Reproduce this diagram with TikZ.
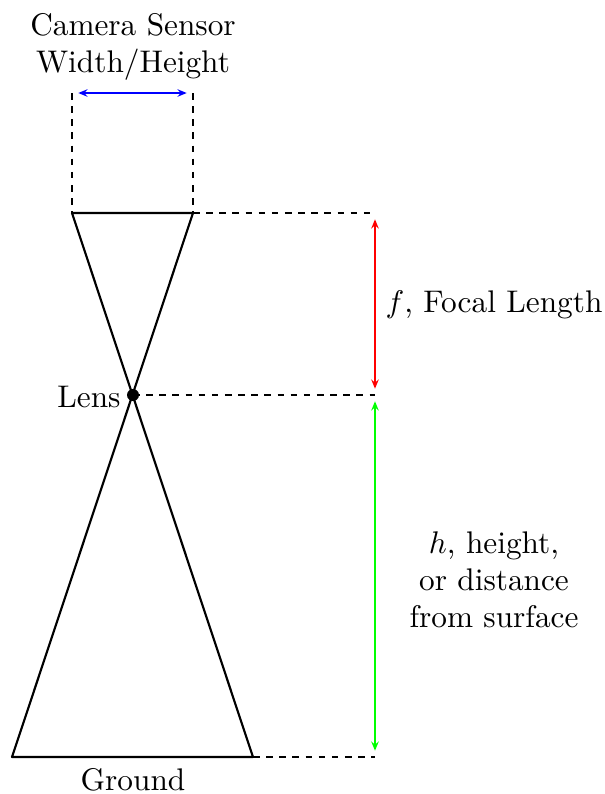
\documentclass[tikz,border=0pt]{standalone}
\usetikzlibrary{arrows.meta}
\begin{document}
\begin{tikzpicture}[x=0.35pt,y=-0.35pt,
  conebox/.style={line width=0.75pt,line join=round},
  guide/.style={dash pattern=on 2.3pt off 2.3pt,line width=0.4pt},
  dim/.style={line width=0.5pt,{Stealth[length=3.2pt,width=2.6pt]}-{Stealth[length=3.2pt,width=2.6pt]},shorten >=2.2pt,shorten <=2.2pt},
  lbl/.style={font=\fontsize{10.95}{13}\selectfont,align=center,inner sep=1pt}]
\useasboundingbox (0,0) rectangle (605,794);
% key points
\coordinate (sl) at (72,213);
\coordinate (sr) at (193,213);
\coordinate (stl) at (72,93);
\coordinate (str) at (193,93);
\coordinate (gl) at (12,757);
\coordinate (gr) at (253,757);
\coordinate (lens) at (133,395);
\coordinate (dt) at (375,213);
\coordinate (dm) at (375,395);
\coordinate (db) at (375,757);
% cone
\draw[conebox] (sl) -- (sr) -- (gl) -- (gr) -- cycle;
\fill (lens) circle (2.1pt);
% guides
\draw[guide] (stl) -- (sl);
\draw[guide] (str) -- (sr);
\draw[guide] (sr) -- (dt);
\draw[guide] (lens) -- (dm);
\draw[guide] (gr) -- (db);
% dimensions
\draw[dim,blue] (stl) -- (str);
\draw[dim,red] (dt) -- (dm);
\draw[dim,green] (dm) -- (db);
% labels
\node[lbl] (cam) at (133,47) {Camera Sensor\\Width/Height};
\node[lbl,anchor=east] (lenslbl) at (124,397) {Lens};
\node[lbl] (ground) at (133,780) {Ground};
\node[lbl] (flbl) at (494,305) {$f$, Focal Length};
\node[lbl] (hlbl) at (494,580) {$h$, height,\\or distance\\from surface};
\end{tikzpicture}
\end{document}
